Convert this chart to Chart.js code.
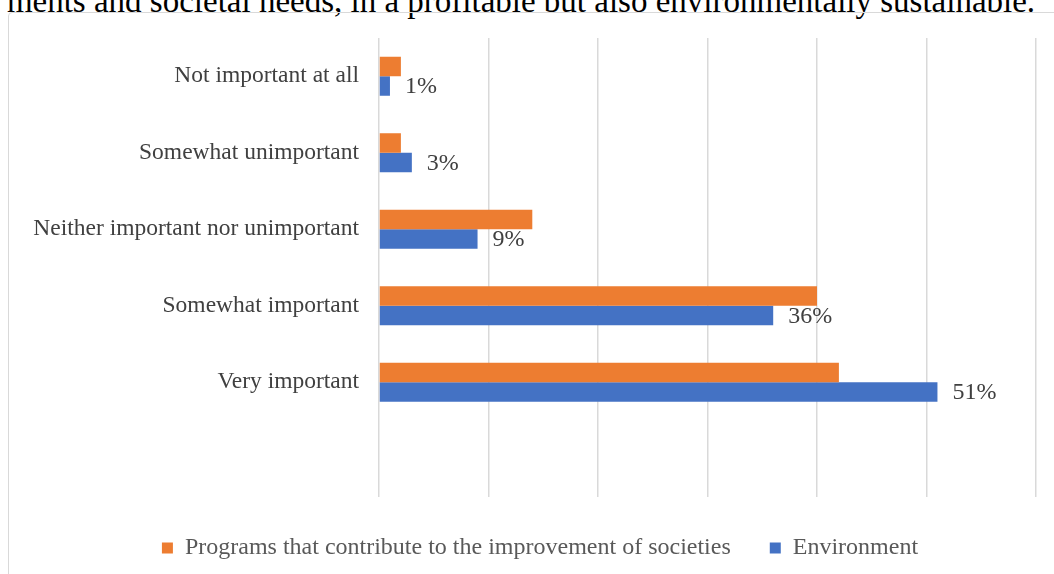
<!DOCTYPE html>
<html>
<head>
<meta charset="utf-8">
<script src="https://cdn.jsdelivr.net/npm/chart.js@4"></script>
<style>
  html, body { margin: 0; padding: 0; background: #fff; overflow: hidden; }
  body { width: 1054px; height: 574px; position: relative; }
  #title {
    position: absolute; left: -34px; top: -15px; width: 1110px;
    text-align: center; white-space: nowrap;
    font: 33px/33px "Liberation Serif", serif; color: #000;
  }
  #frame {
    position: absolute; left: 8px; top: 12px; width: 1100px; height: 620px;
    border: 1.5px solid #d9d9d9; border-radius: 4px; box-sizing: border-box;
  }
  #wrap { position: absolute; left: 0; top: 0; width: 1054px; height: 574px; }
</style>
</head>
<body>
<div id="title">ments and societal needs, in a profitable but also environmentally sustainable.</div>
<div id="frame"></div>
<div id="wrap"><canvas id="chart"></canvas></div>
<script>
const categories = ['Not important at all', 'Somewhat unimportant', 'Neither important nor unimportant', 'Somewhat important', 'Very important', ''];
const programsValues = [2, 2, 14, 40, 42, null];
const environmentValues = [1, 3, 9, 36, 51, null];
const seriesNames = ['Programs that contribute to the improvement of societies', 'Environment'];

const serif = '"Liberation Serif", "Times New Roman", serif';

// labels on the Environment bars only
const barLabels = {
    id: 'barLabels',
    afterDatasetsDraw(chart) {
        const ctx = chart.ctx;
        const meta = chart.getDatasetMeta(1);
        ctx.save();
        ctx.font = '24px ' + serif;
        ctx.fillStyle = '#404040';
        ctx.textAlign = 'left';
        ctx.textBaseline = 'middle';
        meta.data.forEach((bar, i) => {
            const v = environmentValues[i];
            if (v == null) return;
            ctx.fillText(v + '%', bar.x + 15, bar.y + 1);
        });
        ctx.restore();
    }
};

// legend sits a little right of centre in the original
const legendShift = {
    id: 'legendShift',
    afterLayout(chart) {
        chart.legend.left += 22;
        chart.legend.right += 22;
    }
};

const ctx = document.getElementById('chart').getContext('2d');
new Chart(ctx, {
    type: 'bar',
    data: {
        labels: categories,
        datasets: [{
            label: seriesNames[0],
            data: programsValues,
            backgroundColor: '#ED7D31',
            categoryPercentage: 0.51,
            barPercentage: 1
        }, {
            label: seriesNames[1],
            data: environmentValues,
            backgroundColor: '#4472C4',
            categoryPercentage: 0.51,
            barPercentage: 1
        }]
    },
    options: {
        indexAxis: 'y',
        responsive: true,
        maintainAspectRatio: false,
        animation: false,
        layout: { padding: { top: 38, right: 18, bottom: 4, left: 0 } },
        scales: {
            x: {
                min: 0,
                max: 60,
                ticks: { display: false, stepSize: 10 },
                grid: { color: '#d9d9d9', lineWidth: 1.5, drawTicks: false },
                border: { display: false },
                afterFit(scale) { scale.height = 0; }
            },
            y: {
                ticks: { color: '#404040', font: { family: serif, size: 23.5 }, padding: 20 },
                grid: { display: false, drawTicks: false },
                border: { display: false },
                afterFit(scale) { scale.width = 379; }
            }
        },
        plugins: {
            legend: {
                position: 'bottom',
                labels: {
                    color: '#595959',
                    font: { family: serif, size: 24 },
                    boxWidth: 11,
                    boxHeight: 11,
                    padding: 39
                }
            },
            tooltip: { enabled: false }
        }
    },
    plugins: [barLabels, legendShift]
});
</script>
</body>
</html>
